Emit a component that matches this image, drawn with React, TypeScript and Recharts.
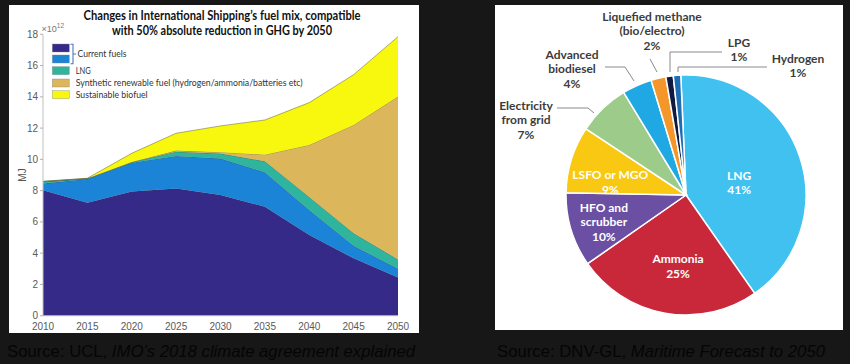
import React from 'react';
import { AreaChart, Area, XAxis, YAxis, PieChart, Pie, Cell } from 'recharts';

// ---------- Left chart data (units of 10^12 MJ, stacked increments) ----------
const years = [2010, 2015, 2020, 2025, 2030, 2035, 2040, 2045, 2050];
const currentFuelA = [8.03, 7.23, 7.95, 8.13, 7.72, 6.97, 5.16, 3.67, 2.45];
const currentFuelB = [0.42, 1.52, 1.84, 2.09, 2.33, 2.21, 1.6, 0.81, 0.55];
const lngFuel = [0.13, 0.02, 0.03, 0.27, 0.32, 0.7, 0.84, 0.79, 0.6];
const syntheticFuel = [0, 0.01, 0.01, 0.07, 0.09, 0.42, 3.32, 6.93, 10.42];
const bioFuel = [0.02, 0.01, 0.56, 1.11, 1.68, 2.22, 2.71, 3.22, 3.83];
const yTicks = [0, 2, 4, 6, 8, 10, 12, 14, 16, 18];

const areaSeries = [
  { key: 'currentA', name: 'Current fuels', values: currentFuelA, color: '#352a87' },
  { key: 'currentB', name: 'Current fuels', values: currentFuelB, color: '#1b84d6' },
  { key: 'lng', name: 'LNG', values: lngFuel, color: '#2fb59d' },
  { key: 'synthetic', name: 'Synthetic renewable fuel (hydrogen/ammonia/batteries etc)', values: syntheticFuel, color: '#dbb65a' },
  { key: 'bio', name: 'Sustainable biofuel', values: bioFuel, color: '#f8f80e' },
];

const areaData = years.map((year, i) => {
  const row: any = { year };
  areaSeries.forEach((s) => (row[s.key] = s.values[i]));
  return row;
});

// ---------- Right chart data ----------
const pieNames = [
  'LNG',
  'Ammonia',
  'HFO and scrubber',
  'LSFO or MGO',
  'Electricity from grid',
  'Advanced biodiesel',
  'Liquefied methane (bio/electro)',
  'LPG',
  'Hydrogen',
];
const pieValues = [41, 25, 10, 9, 7, 4, 2, 1, 1];
const pieColors = ['#40c1f0', '#c8283a', '#6a4fa3', '#f8c812', '#9ccb8a', '#1fa8e4', '#f5962a', '#0e1a40', '#1d6db6'];
const pieData = pieNames.map((name, i) => ({ name, value: pieValues[i] }));

const innerLabels: Record<string, { lines: string[]; r: number; shift: number }> = {
  LNG: { lines: ['LNG'], r: 0.455, shift: -5.4 },
  Ammonia: { lines: ['Ammonia'], r: 0.595, shift: 3.7 },
  'HFO and scrubber': { lines: ['HFO and', 'scrubber'], r: 0.72, shift: 1.1 },
  'LSFO or MGO': { lines: ['LSFO or MGO'], r: 0.64, shift: 7.6 },
};

const outerLabels: Record<string, { lines: string[]; tx: number; ty: number; path: number[][] }> = {
  'Electricity from grid': { lines: ['Electricity', 'from grid'], tx: -160, ty: -90, path: [[-129, -87], [-98, -87], [-92, -82]] },
  'Advanced biodiesel': { lines: ['Advanced', 'biodiesel'], tx: -114, ty: -141, path: [[-81, -128], [-61, -128], [-52, -114]] },
  'Liquefied methane (bio/electro)': { lines: ['Liquefied methane', '(bio/electro)'], tx: -34, ty: -179, path: [[-36, -136], [-29, -123]] },
  LPG: { lines: ['LPG'], tx: 53, ty: -153, path: [[36, -143], [-16, -143], [-16, -123]] },
  Hydrogen: { lines: ['Hydrogen'], tx: 112, ty: -137, path: [[81, -128], [-8, -128], [-8, -123]] },
};

const RAD = Math.PI / 180;
const LABEL_FONT = 'Lato, "Open Sans", sans-serif';

const renderPieLabel = (props: any) => {
  const { cx, cy, midAngle, outerRadius, name, value } = props;
  const inner = innerLabels[name];
  if (inner) {
    const a = (midAngle + inner.shift) * RAD;
    const r = outerRadius * inner.r;
    const x = cx + r * Math.cos(a);
    const y = cy - r * Math.sin(a);
    const lines = [...inner.lines, `${value}%`];
    const start = y - ((lines.length - 1) * 14.5) / 2;
    return (
      <g key={`lbl-${name}`}>
        {lines.map((t, i) => (
          <text key={i} x={x} y={start + i * 14.5} textAnchor="middle" dominantBaseline="central" fill="#ffffff" fontSize={12} fontWeight={700} fontFamily={LABEL_FONT}>
            {t}
          </text>
        ))}
      </g>
    );
  }
  const outer = outerLabels[name];
  if (!outer) return null;
  const lines = [...outer.lines, `${value}%`];
  const pts = outer.path.map(([dx, dy]) => `${cx + dx},${cy + dy}`).join(' ');
  return (
    <g key={`lbl-${name}`}>
      <polyline points={pts} fill="none" stroke="#8a8a8a" strokeWidth={1} />
      {lines.map((t, i) => (
        <text key={i} x={cx + outer.tx} y={cy + outer.ty + i * 14.6} textAnchor="middle" dominantBaseline="central" fill="#3c3c3c" fontSize={12} fontWeight={700} fontFamily={LABEL_FONT}>
          {t}
        </text>
      ))}
    </g>
  );
};

const legendRows = [
  { idx: 0, y: 44 },
  { idx: 1, y: 55 },
  { idx: 2, y: 66.7 },
  { idx: 3, y: 79 },
  { idx: 4, y: 90.7 },
];

export default function App() {
  const tickStyle = { fill: '#5a5a5a', fontSize: 10, fontFamily: '"Liberation Sans", Arial, sans-serif' };
  return (
    <div style={{ position: 'absolute', left: 0, top: 0, width: 850, height: 364, background: '#171717', overflow: 'hidden' }}>
      <div style={{ position: 'absolute', left: 9, top: 5, width: 410, height: 328, background: '#ffffff' }} />
      <div style={{ position: 'absolute', left: 495, top: 5, width: 348, height: 325, background: '#ffffff' }} />

      <div style={{ position: 'absolute', left: 0, top: 0 }}>
        <AreaChart width={425} height={340} data={areaData} margin={{ top: 34.3, right: 27, bottom: 4.3, left: 0 }}>
          <XAxis
            dataKey="year"
            type="number"
            domain={[2010, 2050]}
            ticks={years}
            tickSize={3}
            tickMargin={4}
            tickLine={false}
            axisLine={{ stroke: '#b0b0b0' }}
            tick={tickStyle}
            height={20}
            allowDataOverflow
          />
          <YAxis
            type="number"
            domain={[0, 18]}
            ticks={yTicks}
            width={43}
            tickSize={3}
            tickMargin={2}
            tickLine={{ stroke: '#b0b0b0' }}
            axisLine={{ stroke: '#c0c0c0' }}
            tick={tickStyle}
            allowDataOverflow
          />
          {areaSeries.map((s) => (
            <Area
              key={s.key}
              dataKey={s.key}
              name={s.name}
              stackId="fuel"
              type="linear"
              fill={s.color}
              fillOpacity={1}
              stroke="#3a3a3a"
              strokeOpacity={0.6}
              strokeWidth={0.7}
              dot={false}
              activeDot={false}
              isAnimationActive={false}
            />
          ))}
        </AreaChart>
      </div>

      <div style={{ position: 'absolute', left: 495, top: 5 }}>
        <PieChart width={348} height={325} margin={{ top: 0, right: 0, bottom: 0, left: 0 }}>
          <Pie
            data={pieData}
            dataKey="value"
            nameKey="name"
            cx={191}
            cy={190}
            outerRadius={120}
            startAngle={92.5}
            endAngle={-267.5}
            stroke="#ffffff"
            strokeWidth={1.5}
            label={renderPieLabel}
            labelLine={false}
            isAnimationActive={false}
          >
            {pieData.map((d, i) => (
              <Cell key={d.name} fill={pieColors[i]} />
            ))}
          </Pie>
        </PieChart>
      </div>

      <svg width={850} height={364} style={{ position: 'absolute', left: 0, top: 0, pointerEvents: 'none' }}>
        {/* Left title */}
        <text x={222} y={20} textAnchor="middle" fontFamily={LABEL_FONT} fontWeight={700} fontSize={12.5} fill="#111" textLength={277} lengthAdjust="spacingAndGlyphs">
          Changes in International Shipping’s fuel mix, compatible
        </text>
        <text x={222} y={34.5} textAnchor="middle" fontFamily={LABEL_FONT} fontWeight={700} fontSize={12.5} fill="#111" textLength={220} lengthAdjust="spacingAndGlyphs">
          with 50% absolute reduction in GHG by 2050
        </text>
        {/* exponent */}
        <text x={41.5} y={31.5} fontFamily='"Liberation Sans", Arial, sans-serif' fontSize={9} fill="#777">
          ×10<tspan fontSize={6.5} dy={-4}>12</tspan>
        </text>
        {/* MJ */}
        <text x={25.5} y={175} transform="rotate(-90 25.5 175)" textAnchor="middle" fontFamily='"Liberation Sans", Arial, sans-serif' fontSize={10} fill="#555">
          MJ
        </text>
        {/* Legend */}
        {legendRows.map((r) => (
          <rect key={r.idx} x={52.3} y={r.y} width={17} height={8} fill={areaSeries[r.idx].color} stroke="#888" strokeWidth={0.4} />
        ))}
        <path d="M70.5,44.3 H73 V63.8 H70.5 M73,54 H76" fill="none" stroke="#4a78c8" strokeWidth={1.1} />
        <text x={77.5} y={57} fontFamily={LABEL_FONT} fontSize={9} fill="#333" textLength={49} lengthAdjust="spacingAndGlyphs">
          {areaSeries[0].name}
        </text>
        <text x={75.7} y={73.8} fontFamily={LABEL_FONT} fontSize={9} fill="#333" textLength={15} lengthAdjust="spacingAndGlyphs">
          {areaSeries[2].name}
        </text>
        <text x={75.7} y={85.8} fontFamily={LABEL_FONT} fontSize={9} fill="#333" textLength={227} lengthAdjust="spacingAndGlyphs">
          {areaSeries[3].name}
        </text>
        <text x={75.7} y={98} fontFamily={LABEL_FONT} fontSize={9} fill="#333" textLength={72} lengthAdjust="spacingAndGlyphs">
          {areaSeries[4].name}
        </text>

        {/* Sources */}
        <text x={7} y={357} fontFamily='"Liberation Sans", Arial, sans-serif' fontSize={17} fill="#050505" textLength={408} lengthAdjust="spacingAndGlyphs">
          Source: UCL, <tspan fontStyle="italic">IMO’s 2018 climate agreement explained</tspan>
        </text>
        <text x={497} y={357} fontFamily='"Liberation Sans", Arial, sans-serif' fontSize={17} fill="#050505" textLength={328} lengthAdjust="spacingAndGlyphs">
          Source: DNV-GL, <tspan fontStyle="italic">Maritime Forecast to 2050</tspan>
        </text>
      </svg>
    </div>
  );
}
